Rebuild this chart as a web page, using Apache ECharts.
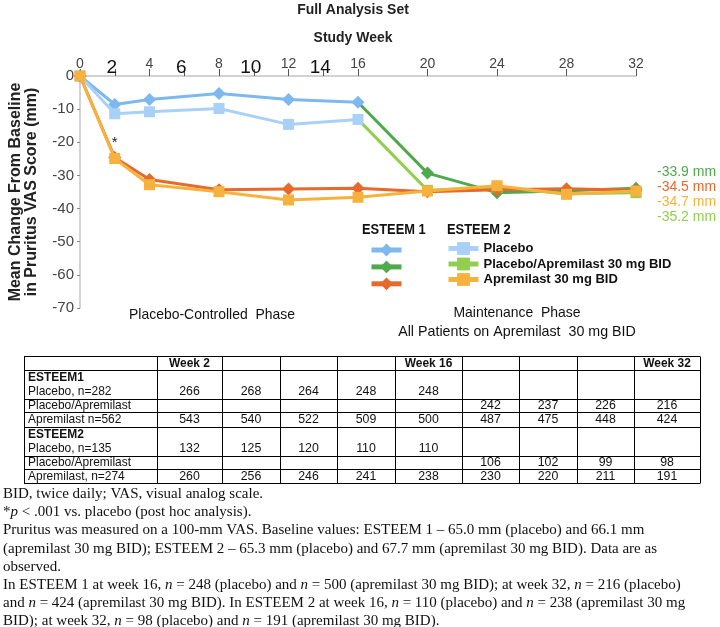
<!DOCTYPE html>
<html><head><meta charset="utf-8">
<script src="https://cdn.jsdelivr.net/npm/echarts@6/dist/echarts.min.js"></script>
<style>html,body{margin:0;padding:0;background:#fff}#c{width:720px;height:627px}</style>
</head><body><div id="c"></div>
<script>
// ---------- DATA ----------
const weeksA = [0, 2, 4, 8, 12, 16];
const weeksB = [16, 20, 24, 28, 32];
const weeksAll = [0, 2, 4, 8, 12, 16, 20, 24, 28, 32];
const e1Placebo = [0, -8.6, -7.1, -5.3, -7.1, -7.9];
const e2Placebo = [0, -11.4, -10.8, -9.8, -14.6, -13.1];
const e1PlaceboApr = [-7.9, -29.3, -35.2, -34.6, -33.9];
const e2PlaceboApr = [-13.1, -34.5, -33.6, -35.5, -35.2];
const e1Apr = [0, -24.6, -31.2, -34.3, -34.1, -33.9, -34.9, -34.3, -34.0, -34.5];
const e2Apr = [0, -24.9, -32.8, -34.9, -37.4, -36.6, -34.7, -33.1, -35.7, -34.7];
const tickWeeks = [0, 2, 4, 6, 8, 10, 12, 14, 16, 20, 24, 28, 32];
const bigTicks = [2, 6, 10, 14];
const endLabels = ['-33.9 mm', '-34.5 mm', '-34.7 mm', '-35.2 mm'];
const legendNames = ['Placebo', 'Placebo/Apremilast 30 mg BID', 'Apremilast 30 mg BID'];

const tableHeader = ['Week 2', '', '', '', 'Week 16', '', '', '', 'Week 32'];
const tE1Placebo = [266, 268, 264, 248, 248, '', '', '', ''];
const tE1PlacApr = ['', '', '', '', '', 242, 237, 226, 216];
const tE1Apr = [543, 540, 522, 509, 500, 487, 475, 448, 424];
const tE2Placebo = [132, 125, 120, 110, 110, '', '', '', ''];
const tE2PlacApr = ['', '', '', '', '', 106, 102, 99, 98];
const tE2Apr = [260, 256, 246, 241, 238, 230, 220, 211, 191];

const footnotes = [
  'BID, twice daily; VAS, visual analog scale.',
  '*{i|p} < .001 vs. placebo (post hoc analysis).',
  'Pruritus was measured on a 100-mm VAS. Baseline values: ESTEEM 1 – 65.0 mm (placebo) and 66.1 mm',
  '(apremilast 30 mg BID); ESTEEM 2 – 65.3 mm (placebo) and 67.7 mm (apremilast 30 mg BID). Data are as',
  'observed.',
  'In ESTEEM 1 at week 16, {i|n} = 248 (placebo) and {i|n} = 500 (apremilast 30 mg BID); at week 32, {i|n} = 216 (placebo)',
  'and {i|n} = 424 (apremilast 30 mg BID). In ESTEEM 2 at week 16, {i|n} = 110 (placebo) and {i|n} = 238 (apremilast 30 mg',
  'BID); at week 32, {i|n} = 98 (placebo) and {i|n} = 191 (apremilast 30 mg BID).'
];

// ---------- STYLE ----------
const C = {
  e1p: '#7DB8EE', e2p: '#A9D1F7',
  e1pa: '#4EAA4B', e2pa: '#92CF4F',
  e1a: '#E8692C', e2a: '#F7B23E'
};
const SANS = "'Liberation Sans',Arial,sans-serif";
const SERIF = "'Liberation Serif','Times New Roman',serif";

const zip = (xs, ys) => xs.map((x, i) => [x, ys[i]]);

function mkSeries(name, color, symbol, size, data, z) {
  return {
    name, type: 'line', data, z,
    symbol, symbolSize: size,
    lineStyle: { color, width: 3 },
    itemStyle: { color },
    emphasis: { disabled: true },
    animation: false
  };
}
// first point of the switch-over series sits under the placebo marker
const noFirstSymbol = arr => arr.map((p, i) => i === 0 ? { value: p, symbol: 'none' } : p);

const e2AprData = zip(weeksAll, e2Apr).map((p, i) => i === 1 ? {
  value: p, label: { show: true, position: 'top', distance: 3, formatter: '*', fontSize: 15, color: '#222', fontFamily: SANS }
} : p);

const series = [
  mkSeries('ESTEEM 1 Placebo', C.e1p, 'diamond', 13, zip(weeksA, e1Placebo), 2),
  mkSeries('ESTEEM 2 Placebo', C.e2p, 'rect', 11, zip(weeksA, e2Placebo), 3),
  mkSeries('ESTEEM 1 Placebo/Apremilast 30 mg BID', C.e1pa, 'diamond', 13, noFirstSymbol(zip(weeksB, e1PlaceboApr)), 1),
  mkSeries('ESTEEM 2 Placebo/Apremilast 30 mg BID', C.e2pa, 'rect', 11, noFirstSymbol(zip(weeksB, e2PlaceboApr)), 1),
  mkSeries('ESTEEM 1 Apremilast 30 mg BID', C.e1a, 'diamond', 13, zip(weeksAll, e1Apr), 6),
  mkSeries('ESTEEM 2 Apremilast 30 mg BID', C.e2a, 'rect', 11, e2AprData, 7),
  {
    type: 'line', data: [], clip: false, silent: true,
    markLine: {
      symbol: 'none', silent: true, animation: false,
      label: { show: false },
      lineStyle: { color: '#666', type: [5, 4], width: 1.5 },
      data: [[{ coord: [16, 0] }, { coord: [16, -74.5] }]]
    }
  }
];

// ---------- GRAPHICS: texts, table, footnotes ----------
const G = [];
function txt(x, y, text, opt, sx) {
  G.push({
    type: 'text', x, y, silent: true, scaleX: sx || 1,
    style: Object.assign({ text, fill: '#222', fontSize: 14, fontFamily: SANS, textAlign: 'left', textVerticalAlign: 'middle' }, opt || {})
  });
}
txt(353, 10, 'Full Analysis Set', { fontWeight: 'bold', fontSize: 15, textAlign: 'center' }, 0.93);
txt(353, 38, 'Study Week', { fontWeight: 'bold', fontSize: 15, textAlign: 'center' }, 0.93);
txt(362, 230, 'ESTEEM 1', { fontWeight: 'bold', fontSize: 14, fill: '#111' }, 0.92);
txt(447, 230, 'ESTEEM 2', { fontWeight: 'bold', fontSize: 14, fill: '#111' }, 0.92);
txt(212, 315, 'Placebo-Controlled  Phase', { fontSize: 15, textAlign: 'center', fill: '#111' }, 0.93);
txt(517, 313, 'Maintenance  Phase', { fontSize: 15, textAlign: 'center', fill: '#111' }, 0.93);
txt(517, 332, 'All Patients on Apremilast  30 mg BID', { fontSize: 15, textAlign: 'center', fill: '#111' }, 0.95);
const endColors = [C.e1pa, C.e1a, C.e2a, C.e2pa];
endLabels.forEach((t, i) => txt(657, 172 + i * 15, t, { fill: endColors[i], fontSize: 14 }));

// table
const colEdges = [24, 157, 222, 280, 337, 395, 462, 519, 577, 634, 700];
const rowEdges = [356, 369.6, 398.6, 412.3, 426.6, 455.6, 469.3, 483];
function hline(y, x1, x2) { G.push({ type: 'line', silent: true, shape: { x1, y1: y, x2, y2: y }, style: { stroke: '#000', lineWidth: 1 } }); }
function vline(x, y1, y2) { G.push({ type: 'line', silent: true, shape: { x1: x, y1, x2: x, y2 }, style: { stroke: '#000', lineWidth: 1 } }); }
rowEdges.forEach(y => hline(Math.round(y) + 0.5, colEdges[0], colEdges[colEdges.length - 1]));
colEdges.forEach(x => vline(x + 0.5, Math.round(rowEdges[0]) + 0.5, Math.round(rowEdges[rowEdges.length - 1]) + 0.5));
const TF = { fontSize: 13, fontFamily: SANS, fill: '#111' };
const colCenter = i => (colEdges[i + 1] + colEdges[i + 2]) / 2;
tableHeader.forEach((h, i) => { if (h) txt(colCenter(i), 363, h, Object.assign({}, TF, { fontWeight: 'bold', textAlign: 'center' }), 0.92); });
const rows = [
  { label: 'ESTEEM1', bold: true, y: 377 },
  { label: 'Placebo, n=282', y: 391, vals: tE1Placebo },
  { label: 'Placebo/Apremilast', y: 405.5, vals: tE1PlacApr },
  { label: 'Apremilast n=562', y: 419.5, vals: tE1Apr },
  { label: 'ESTEEM2', bold: true, y: 434 },
  { label: 'Placebo, n=135', y: 448.5, vals: tE2Placebo },
  { label: 'Placebo/Apremilast', y: 462.5, vals: tE2PlacApr },
  { label: 'Apremilast, n=274', y: 476.5, vals: tE2Apr }
];
rows.forEach(r => {
  txt(28, r.y, r.label, Object.assign({}, TF, r.bold ? { fontWeight: 'bold' } : {}), 0.92);
  if (r.vals) r.vals.forEach((v, i) => { if (v !== '') txt(colCenter(i), r.y, String(v), Object.assign({}, TF, { textAlign: 'center' }), 0.95); });
});

// footnotes
footnotes.forEach((f, i) => {
  G.push({
    type: 'text', x: 3, y: 494 + i * 18.2, silent: true,
    style: {
      text: f, fill: '#111', fontSize: 15, fontFamily: SERIF, textVerticalAlign: 'middle',
      rich: { i: { fontStyle: 'italic', fontSize: 15, fontFamily: SERIF, fill: '#111' } }
    }
  });
});

// ---------- CHART ----------
const legendE1 = ['ESTEEM 1 Placebo', 'ESTEEM 1 Placebo/Apremilast 30 mg BID', 'ESTEEM 1 Apremilast 30 mg BID'];
const legendE2 = ['ESTEEM 2 Placebo', 'ESTEEM 2 Placebo/Apremilast 30 mg BID', 'ESTEEM 2 Apremilast 30 mg BID'];
const chart = echarts.init(document.getElementById('c'), null, { renderer: 'canvas' });
chart.setOption({
  animation: false,
  backgroundColor: '#fff',
  grid: { left: 74, right: 84, top: 76, bottom: 319, containLabel: false },
  xAxis: {
    type: 'value', position: 'top', min: 0, max: 32,
    axisLine: { show: true, lineStyle: { color: '#c4c4c4', width: 1.5 } },
    axisTick: { show: true, length: 7, lineStyle: { color: '#555' }, customValues: tickWeeks },
    splitLine: { show: false },
    axisLabel: {
      customValues: tickWeeks, margin: 5,
      formatter: v => bigTicks.indexOf(v) >= 0 ? '{b|' + v + '}' : '{s|' + v + '}',
      rich: {
        s: { fontSize: 14, color: '#444', fontFamily: SANS },
        b: { fontSize: 19, color: '#111', fontFamily: SANS, padding: [0, 6, -6, 0] }
      }
    }
  },
  yAxis: {
    type: 'value', min: -70, max: 0, interval: 10,
    axisLine: { show: true, lineStyle: { color: '#c4c4c4', width: 1.5 } },
    axisTick: { show: true, length: 3, lineStyle: { color: '#888' } },
    splitLine: { show: false },
    axisLabel: { fontSize: 15, color: '#444', fontFamily: SANS, margin: 6 },
    name: 'Mean Change From Baseline\nin Pruritus VAS Score (mm)',
    nameLocation: 'middle', nameGap: 40, nameRotate: 90,
    nameTextStyle: { fontSize: 16, fontWeight: 'bold', color: '#222', fontFamily: SANS, lineHeight: 16 }
  },
  legend: [
    {
      data: legendE1,
      left: 364, top: 237, orient: 'vertical', itemWidth: 30, itemHeight: 16, itemGap: 2.5,
      lineStyle: { width: 5 },
      formatter: () => '', selectedMode: false, textStyle: { fontSize: 14 }
    },
    {
      data: legendE2,
      left: 441, top: 237, orient: 'vertical', itemWidth: 30, itemHeight: 16, itemGap: 2.5,
      lineStyle: { width: 5 },
      formatter: n => legendNames[legendE2.indexOf(n)],
      selectedMode: false, textStyle: { fontSize: 13, fontWeight: 'bold', fontFamily: SANS, color: '#111' }
    }
  ],
  series,
  graphic: G
});
</script></body></html>
